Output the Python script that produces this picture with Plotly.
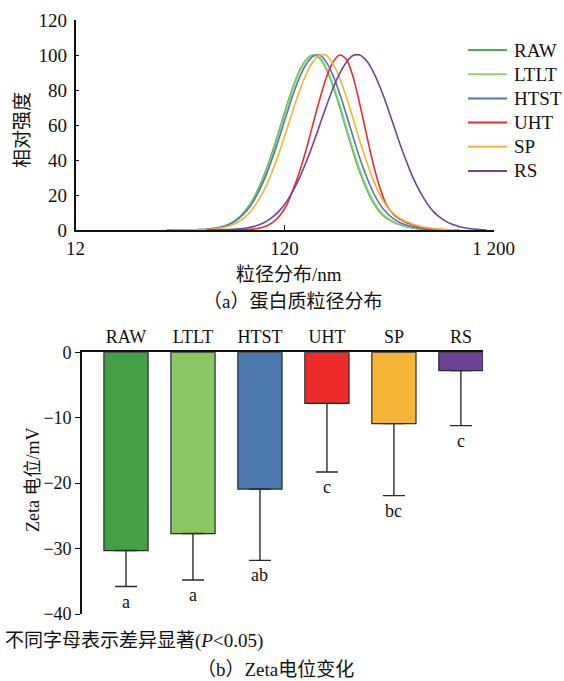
import plotly.graph_objects as go

W, H = 564, 681

# ---- (a) particle size distribution (DLS, intensity normalised to 100) ----
series_names = ["RAW", "LTLT", "HTST", "UHT", "SP", "RS"]

# size classes (nm) shared by all samples
size_nm = [32.67, 35.16, 37.84, 40.72, 43.82, 47.16, 50.75, 54.61, 58.77, 63.24,
           68.06, 73.24, 78.82, 84.82, 91.28, 98.22, 105.7, 113.7, 122.4, 131.7,
           141.8, 152.6, 164.2, 176.7, 190.1, 204.6, 220.2, 237.0, 255.0, 274.4,
           295.3, 317.8, 342.0, 368.0, 396.1, 426.3, 458.7, 493.6, 531.2, 571.6,
           615.1, 662.0, 712.4, 766.6, 825.0, 887.8, 955.4, 1028, 1106]

N = None
int_raw = [N, 0, 0, 0, 0.1, 0.2, 0.44, 0.84, 1.55, 2.76,
           4.65, 7.6, 11.8, 17.7, 25.4, 34.8, 46.0, 58.0, 70.5, 82.0,
           91.4, 97.6, 100, 98.1, 91.8, 82.0, 70.2, 57.1, 44.6, 33.1,
           23.6, 15.9, 10.3, 6.8, 4.6, 3.0, 1.9, 1.1, 0.6, 0.3,
           0.1, 0, N, N, N, N, N, N, N]

int_ltlt = [N, 0, 0, 0, 0.1, 0.2, 0.4, 0.8, 1.4, 2.6,
            4.4, 7.2, 11.2, 16.9, 24.4, 33.5, 44.5, 56.5, 69.1, 80.9,
            90.6, 97.2, 100, 98.6, 92.6, 83.1, 71.6, 58.6, 46.1, 34.5,
            24.8, 16.9, 11.0, 7.3, 4.9, 3.2, 2.0, 1.2, 0.7, 0.3,
            0.1, 0, N, N, N, N, N, N, N]

int_htst = [0, 0, 0, 0.05, 0.1, 0.22, 0.43, 0.81, 1.47, 2.58,
            4.3, 7.0, 10.8, 16.1, 23.2, 31.8, 42.2, 53.6, 65.7, 77.4,
            87.5, 95.0, 99.3, 100, 95.9, 88.2, 77.9, 65.8, 53.3, 41.2,
            30.7, 21.7, 14.8, 10.0, 6.6, 4.3, 2.8, 1.8, 1.0, 0.5,
            0.2, 0.05, 0, N, N, N, N, N, N]

int_uht = [N, N, N, N, N, N, N, N, N, 0,
           0, 0.08, 0.2, 0.5, 1.1, 2.3, 4.5, 8.2, 14.0, 23.0,
           33.7, 46.4, 60.7, 74.7, 87.1, 96.0, 100, 97.4, 87.5, 72.1,
           54.9, 38.2, 24.5, 14.5, 9.2, 6.2, 4.3, 2.9, 1.9, 1.2,
           0.7, 0.35, 0.15, 0.05, 0, N, N, N, N]

int_sp = [N, 0, 0, 0, 0.07, 0.15, 0.29, 0.56, 1.03, 1.84,
          3.13, 5.15, 8.1, 12.4, 18.2, 25.5, 34.7, 45.1, 56.7, 68.6,
          79.9, 89.3, 96.2, 100, 99.7, 94.8, 86.7, 75.8, 63.7, 51.1,
          39.4, 28.9, 20.4, 13.8, 9.6, 6.8, 4.8, 3.3, 2.2, 1.4,
          0.85, 0.5, 0.25, 0.1, 0, N, N, N, N]

int_rs = [N, N, N, N, N, N, 0, 0.05, 0.1, 0.2,
          0.36, 0.66, 1.14, 1.92, 3.15, 4.96, 7.6, 11.2, 16.1, 22.4,
          30.2, 39.1, 49.3, 60.0, 70.9, 81.0, 89.5, 95.9, 99.7, 100,
          96.8, 90.7, 82.1, 72.0, 60.8, 49.6, 39.3, 29.9, 22.2, 15.8,
          10.8, 7.3, 4.8, 3.1, 1.9, 1.1, 0.6, 0.25, 0]

size_ticks = [12, 120, 1200]
size_tick_text = ["12", "120", "1 200"]

# ---- (b) zeta potential ----
zeta_mean = [-30.3, -27.7, -20.9, -7.8, -10.9, -2.8]
zeta_sd = [5.5, 7.1, 10.9, 10.5, 11.0, 8.4]
zeta_letters = ["a", "a", "ab", "c", "bc", "c"]

line_colors = ["#4cae4f", "#8fd16a", "#4a78c4", "#ee2b2b", "#f9b233", "#6f43a0"]
bar_colors = ["#43a047", "#88c762", "#4b79b0", "#ee2b2b", "#f4b537", "#6c4398"]

SERIF = "Liberation Serif, Noto Sans CJK SC, serif"


def px_x(p):
    return p / W


def px_y(p):
    return 1 - p / H


fig = go.Figure()

curves = [int_raw, int_ltlt, int_htst, int_uht, int_sp, int_rs]
for name, ys, col in zip(series_names, curves, line_colors):
    fig.add_trace(go.Scatter(
        x=size_nm, y=ys, name=name, mode="lines", showlegend=False,
        line=dict(color=col, width=1.6, shape="spline", smoothing=1.0),
        xaxis="x", yaxis="y",
    ))

fig.add_trace(go.Bar(
    x=series_names, y=zeta_mean, showlegend=False,
    marker=dict(color=bar_colors, line=dict(color="#2b2b2b", width=1.2)),
    width=0.66,
    error_y=dict(type="data", symmetric=False,
                 array=[0] * len(zeta_sd), arrayminus=zeta_sd,
                 color="#2b2b2b", thickness=1.4, width=11),
    xaxis="x2", yaxis="y2",
))

# significance letters below each error bar
for cat, m, s, lab in zip(series_names, zeta_mean, zeta_sd, zeta_letters):
    fig.add_annotation(
        x=cat, y=m - s, xref="x2", yref="y2", text=lab, showarrow=False,
        yanchor="top", yshift=-3, font=dict(family=SERIF, size=18, color="#111"),
    )

# legend of panel (a): coloured key line + series name per row
legend_top, legend_step = 50, 24.2
for i, (name, col) in enumerate(zip(series_names, line_colors)):
    yy = px_y(legend_top + i * legend_step)
    fig.add_shape(type="line", xref="paper", yref="paper",
                  x0=px_x(468), x1=px_x(507), y0=yy, y1=yy,
                  line=dict(color=col, width=2))
    fig.add_annotation(x=px_x(512), y=yy, xref="paper", yref="paper",
                       text=name, showarrow=False, xanchor="left",
                       yanchor="middle",
                       font=dict(family=SERIF, size=19, color="#111"))

axis_font = dict(family=SERIF, size=19, color="#111")

fig.update_layout(
    width=W, height=H,
    margin=dict(l=0, r=0, t=0, b=0, autoexpand=False),
    paper_bgcolor="white", plot_bgcolor="white",
    showlegend=False,
    xaxis=dict(
        domain=[px_x(75.5), px_x(493.7)], anchor="y",
        type="log", range=[1.0792, 3.0792],
        tickvals=size_ticks, ticktext=size_tick_text,
        ticks="inside", ticklen=5, tickwidth=1.2, tickcolor="#111",
        showline=True, linecolor="#111", linewidth=1.6,
        showgrid=False, zeroline=False, tickfont=axis_font,
        layer="below traces",
    ),
    yaxis=dict(
        domain=[px_y(230), px_y(20)], anchor="x",
        range=[0, 120], tickvals=[0, 20, 40, 60, 80, 100, 120],
        ticks="inside", ticklen=4, tickwidth=1.2, tickcolor="#111",
        showline=True, linecolor="#111", linewidth=1.6,
        showgrid=False, zeroline=False, tickfont=axis_font,
        ticklabelstandoff=3,
    ),
    xaxis2=dict(
        domain=[px_x(82), px_x(483)], anchor="y2", side="top",
        type="category", range=[-0.657, 5.33],
        ticks="", showline=True, linecolor="#111", linewidth=1.6,
        showgrid=False, zeroline=False,
        tickfont=dict(family=SERIF, size=18, color="#111"),
    ),
    yaxis2=dict(
        domain=[px_y(614), px_y(352.3)], anchor="x2",
        range=[-40, 0], tickvals=[0, -10, -20, -30, -40],
        ticks="outside", ticklen=5, tickwidth=1.2, tickcolor="#111",
        showline=True, linecolor="#111", linewidth=1.6,
        showgrid=False, zeroline=False,
        tickfont=dict(family=SERIF, size=18, color="#111"),
    ),
)

texts = [
    ("相对强度", 22, 130, -90, 19),
    ("粒径分布/nm", 289, 274, 0, 19),
    ("（a）蛋白质粒径分布", 292, 301, 0, 19),
    ("Zeta 电位/mV", 33, 480, -90, 18),
    ("（b）Zeta电位变化", 275, 669, 0, 19),
]
for t, x, y, ang, fs in texts:
    fig.add_annotation(
        x=px_x(x), y=px_y(y), xref="paper", yref="paper", text=t,
        showarrow=False, textangle=ang, xanchor="center", yanchor="middle",
        font=dict(family=SERIF, size=fs, color="#111"),
    )

fig.add_annotation(
    x=px_x(3), y=px_y(641), xref="paper", yref="paper",
    text="不同字母表示差异显著(<i>P</i>&lt;0.05)", showarrow=False,
    xanchor="left", yanchor="middle",
    font=dict(family=SERIF, size=19, color="#111"),
)

fig.write_html("out.html")
